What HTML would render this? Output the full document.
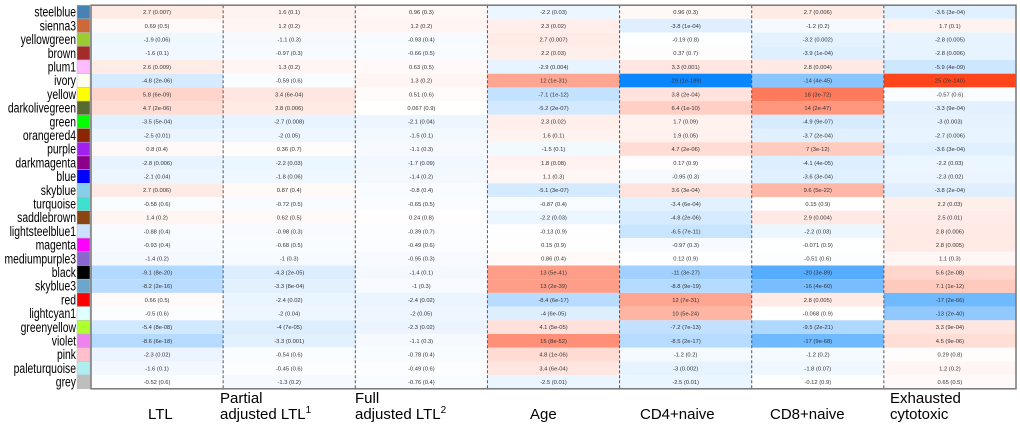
<!DOCTYPE html>
<html><head><meta charset="utf-8"><style>
body{margin:0;background:#fff;width:1020px;height:430px;overflow:hidden;font-family:"Liberation Sans",sans-serif}
</style></head><body>
<svg id="chart" width="1020" height="430" xmlns="http://www.w3.org/2000/svg"></svg>
<script>
const rows=["steelblue","sienna3","yellowgreen","brown","plum1","ivory","yellow","darkolivegreen","green","orangered4","purple","darkmagenta","blue","skyblue","turquoise","saddlebrown","lightsteelblue1","magenta","mediumpurple3","black","skyblue3","red","lightcyan1","greenyellow","violet","pink","paleturquoise","grey"];
const swatches=["#4682B4","#CD6839","#9ACD32","#A52A2A","#FFBBFF","#FFFFF0","#FFFF00","#556B2F","#00FF00","#8B2500","#A020F0","#8B008B","#0000FF","#87CEEB","#40E0D0","#8B4513","#CAE1FF","#FF00FF","#8968CD","#000000","#6CA6CD","#FF0000","#E0FFFF","#ADFF2F","#EE82EE","#FFC0CB","#AFEEEE","#BEBEBE"];
const traits=[["LTL"],["Partial","adjusted LTL\u00b9"],["Full","adjusted LTL\u00b2"],["Age"],["CD4+naive"],["CD8+naive"],["Exhausted","cytotoxic"]];
const vLTL=[2.7,0.69,-1.9,-1.6,2.6,-4.8,5.8,4.7,-3.5,-2.5,0.8,-2.8,-2.1,2.7,-0.58,1.4,-0.88,-0.93,-1.4,-9.1,-8.2,0.66,-0.5,-5.4,-8.6,-2.3,-1.6,-0.52];
const pLTL=["0.007","0.5","0.06","0.1","0.009","2e-06","6e-09","2e-06","5e-04","0.01","0.4","0.006","0.04","0.006","0.6","0.2","0.4","0.4","0.2","8e-20","2e-16","0.5","0.6","8e-08","6e-18","0.02","0.1","0.6"];
const vPart=[1.6,1.2,-1.1,-0.97,1.3,-0.59,3.4,2.8,-2.7,-2,0.36,-2.2,-1.8,0.87,-0.72,0.62,-0.98,-0.68,-1,-4.3,-3.3,-2.4,-2,-4,-3.3,-0.54,-0.45,-1.3];
const pPart=["0.1","0.2","0.3","0.3","0.2","0.6","6e-04","0.006","0.008","0.05","0.7","0.03","0.06","0.4","0.5","0.5","0.3","0.5","0.3","2e-05","8e-04","0.02","0.04","7e-05","0.001","0.6","0.6","0.2"];
const vFull=[0.96,1.2,-0.93,-0.66,0.63,1.3,0.51,0.067,-2.1,-1.5,-1.1,-1.7,-1.4,-0.8,-0.65,0.24,-0.39,-0.49,-0.95,-1.4,-1,-2.4,-2,-2.3,-1.1,-0.78,-0.49,-0.76];
const pFull=["0.3","0.2","0.4","0.5","0.5","0.2","0.6","0.9","0.04","0.1","0.3","0.09","0.2","0.4","0.5","0.8","0.7","0.6","0.3","0.1","0.3","0.02","0.05","0.02","0.3","0.4","0.6","0.4"];
const vAge=[-2.2,2.3,2.7,2.2,-2.9,12,-7.1,-5.2,2.3,1.6,-1.5,1.8,1.1,-5.1,-0.87,-2.2,-0.13,0.15,0.86,13,13,-8.4,-4,4.1,15,4.8,3.4,-2.5];
const pAge=["0.03","0.02","0.007","0.03","0.004","1e-31","1e-12","2e-07","0.02","0.1","0.1","0.08","0.3","3e-07","0.4","0.03","0.9","0.9","0.4","5e-41","2e-39","6e-17","6e-05","5e-05","8e-52","1e-06","6e-04","0.01"];
const vCD4=[0.96,-3.8,-0.19,0.37,3.3,-29,3.8,6.4,1.7,1.9,4.7,0.17,-0.95,3.6,-3.4,-4.8,-6.5,-0.97,0.12,-11,-8.8,12,10,-7.2,-8.5,-1.2,-3,-2.5];
const pCD4=["0.3","1e-04","0.8","0.7","0.001","1e-189","2e-04","1e-10","0.09","0.05","2e-06","0.9","0.3","3e-04","6e-04","2e-06","7e-11","0.3","0.9","3e-27","9e-19","7e-31","5e-24","7e-13","2e-17","0.2","0.002","0.01"];
const vCD8=[2.7,-1.2,-3.2,-3.9,2.8,-14,18,14,-4.9,-3.7,7,-4.1,-3.6,9.6,0.15,2.9,-2.2,-0.071,-0.51,-20,-16,2.8,-0.068,-9.5,-17,-1.2,-1.8,-0.12];
const pCD8=["0.006","0.2","0.002","1e-04","0.004","4e-45","3e-72","2e-47","9e-07","2e-04","3e-12","4e-05","3e-04","5e-22","0.9","0.004","0.03","0.9","0.6","3e-89","4e-60","0.005","0.9","2e-21","9e-68","0.2","0.07","0.9"];
const vExh=[-3.6,1.7,-2.8,-2.8,-5.9,25,-0.57,-3.3,-3,-2.7,-3.6,-2.2,-2.3,-3.8,2.2,2.5,2.8,2.8,1.1,5.6,7.1,-17,-13,3.3,4.5,0.29,1.2,0.65];
const pExh=["3e-04","0.1","0.005","0.006","4e-09","2e-140","0.6","9e-04","0.003","0.006","3e-04","0.03","0.02","2e-04","0.03","0.01","0.006","0.005","0.3","2e-08","1e-12","2e-66","2e-40","9e-04","9e-06","0.8","0.2","0.5"];

const vals=[vLTL,vPart,vFull,vAge,vCD4,vCD8,vExh];
const pvs=[pLTL,pPart,pFull,pAge,pCD4,pCD8,pExh];
const NS="http://www.w3.org/2000/svg";
const svg=document.getElementById('chart');
const X0=91,X1=1016,Y0=5.2,Y1=388.8;
const cw=(X1-X0)/traits.length, rh=(Y1-Y0)/rows.length;
const xs=j=>X0+j*cw, ys=i=>Y0+i*rh;
function color(v){
  if(v>=0){const t=Math.min(v/25,1);return `rgb(255,${Math.round(255-t*186)},${Math.round(255-t*228)})`;}
  const t=Math.min(-v/29,1);return `rgb(${Math.round(255-t*245)},${Math.round(255-t*120)},255)`;
}
function mk(tag,attrs,parent){const e=document.createElementNS(NS,tag);for(const k in attrs)e.setAttribute(k,attrs[k]);(parent||svg).appendChild(e);return e;}
rows.forEach((r,i)=>{
  const t=mk('text',{x:0,y:0,'text-anchor':'end','font-size':13.5,fill:'#000',transform:`translate(76,${ys(i)+rh/2+4.6}) scale(0.77,1)`});
  t.textContent=r;
  
  
  const s=mk('rect',{x:77,y:ys(i),width:13,height:rh,fill:swatches[i],stroke:'#bbb','stroke-width':0.5});
  
  
  vals.forEach((col,j)=>{
    const c=mk('rect',{x:xs(j),y:ys(i),width:cw,height:rh,fill:color(col[i])});
    
    
    const tx=mk('text',{x:xs(j)+cw/2,y:ys(i)+rh/2+2,'text-anchor':'middle','font-size':5.8,fill:'#333'});
    tx.textContent=col[i]+' ('+pvs[j][i]+')';
    
    
  });
});
for(let j=1;j<traits.length;j++){
  const l=mk('line',{x1:xs(j),x2:xs(j),y1:Y0,y2:Y1,stroke:'#555','stroke-width':1,'stroke-dasharray':'3,2'});
  
  
}
const b=mk('rect',{x:X0,y:Y0,width:X1-X0,height:Y1-Y0,fill:'none',stroke:'#777','stroke-width':1.5});


const lx=[148,220,355,530,640,770,890];
traits.forEach((t,j)=>{
  const lines=t.length;
  t.forEach((ln,k)=>{
    const y=lines===1?419:403+k*16;
    const e=mk('text',{x:lx[j],y:y,'font-size':15,fill:'#000'});
    if(ln.endsWith('\u00b9')||ln.endsWith('\u00b2')){
      e.textContent=ln.slice(0,-1);
      const sup=mk('tspan',{'font-size':10,dy:-6},e);sup.textContent=ln.slice(-1)==='\u00b9'?'1':'2';
    } else e.textContent=ln;
    
    
  });
});
</script>
</body></html>
